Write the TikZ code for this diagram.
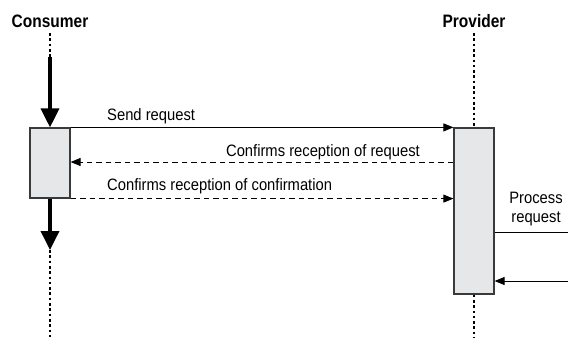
\documentclass[tikz,border=0pt]{standalone}
\usepackage{fontspec}
\setmainfont{Liberation Sans}[FakeStretch=0.86]
\newfontfamily\lblfont{Liberation Sans}[FakeStretch=0.895]
\usetikzlibrary{arrows.meta,calc}
\definecolor{boxgray}{HTML}{E6E7E8}
\definecolor{boxedge}{HTML}{3A3A3A}
\begin{document}
\begin{tikzpicture}[x=1pt,y=-1pt,
  actbox/.style={draw=boxedge,line width=1.2pt,fill=boxgray,minimum width=40pt,inner sep=0pt},
  lifedots/.style={line width=2.6pt,dash pattern=on 2.6pt off 2.7pt},
  bigarrow/.style={line width=3.6pt,-{Triangle[width=18pt,length=19pt]}},
  msg/.style={line width=1pt,-{Triangle[width=8pt,length=10pt]}},
  dmsg/.style={msg,dash pattern=on 5.5pt off 4pt},
  title/.style={font=\bfseries\fontsize{18}{20}\selectfont,inner sep=0pt},
  lbl/.style={font=\lblfont\fontsize{16.5}{19}\selectfont,inner sep=0pt}]
\useasboundingbox (0,0) rectangle (568,338);
\node[title,anchor=base] (ctitle) at (50,27) {Consumer};
\node[title,anchor=base] (ptitle) at (474,27) {Provider};
\node[actbox,minimum height=70pt] (cbox) at (50,163) {};
\node[actbox,minimum height=166pt] (pbox) at (474,211) {};
\coordinate (ctop) at (50,33);
\coordinate (cdot1) at (50,57);
\coordinate (carr2) at (50,250);
\coordinate (cbot) at (50,338);
\coordinate (ptop) at (474,33);
\coordinate (pbot) at (474,338);
\draw[lifedots] (ctop) -- (cdot1);
\draw[bigarrow] (cdot1) -- (cbox.north);
\draw[bigarrow] (cbox.south) -- (carr2);
\draw[lifedots] (carr2) -- (cbot);
\draw[lifedots] (ptop) -- (pbox.north);
\draw[lifedots] (pbox.south) -- (pbot);
% messages
\draw[msg] (cbox.north east) -- (pbox.north west);
\node[lbl,anchor=base west] (l1) at (107,120) {Send request};
\draw[dmsg] (pbox.west |- 0,162) -- (cbox.east |- 0,162);
\node[lbl,anchor=base east] (l2) at (420,156) {Confirms reception of request};
\draw[dmsg] (cbox.south east) -- (pbox.west |- cbox.south);
\node[lbl,anchor=base west] (l3) at (107,190) {Confirms reception of confirmation};
% process
\coordinate (pout) at (568,232);
\coordinate (pin) at (568,281);
\draw[line width=1pt] (pbox.east |- pout) -- (pout);
\node[lbl,anchor=base] (l4a) at (536,203) {Process};
\node[lbl,anchor=base] (l4b) at (536,222) {request};
\draw[msg] (pin) -- (pbox.east |- pin);
\end{tikzpicture}
\end{document}
